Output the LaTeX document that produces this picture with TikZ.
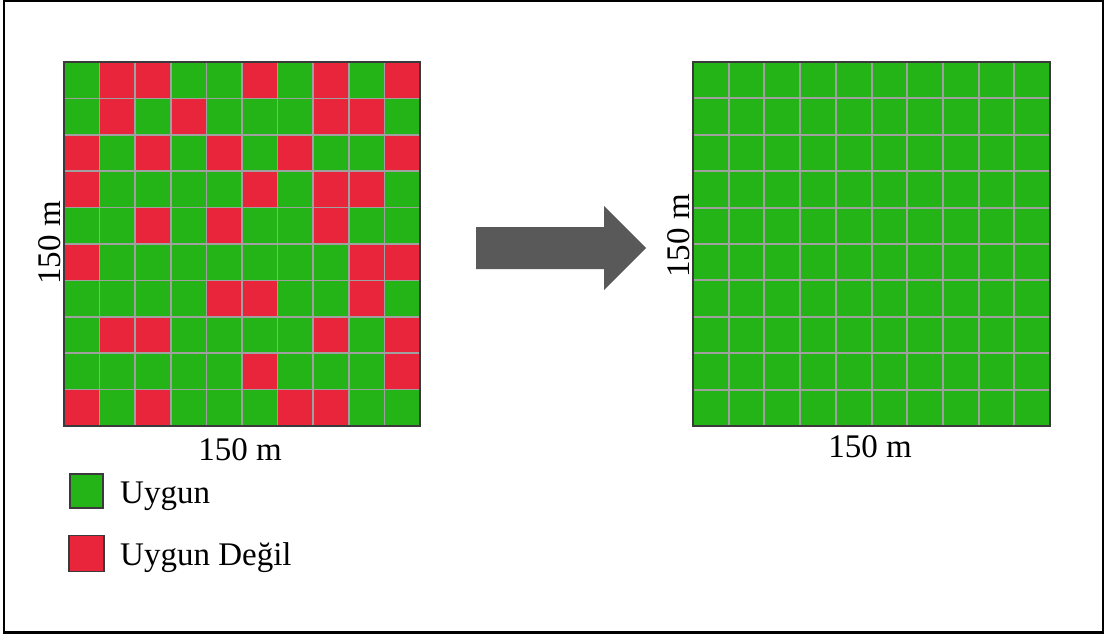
\documentclass[tikz,border=0pt]{standalone}
\usepackage{fontspec}
\setmainfont{Liberation Serif}
\definecolor{okgreen}{HTML}{24B418}
\definecolor{nored}{HTML}{E8253A}
\definecolor{gridgray}{HTML}{A0A0A0}
\definecolor{edgegray}{HTML}{3A3A3A}
\definecolor{arrowgray}{HTML}{595959}
\begin{document}
\begin{tikzpicture}[x=1pt,y=-1pt,
  lbl/.style={font=\fontsize{33}{38}\selectfont, inner sep=0pt},
  legbox/.style={draw=edgegray, line width=1.5pt, minimum width=33pt, minimum height=34pt, inner sep=0pt},
  gridline/.style={draw=gridgray, line width=1.5pt},
  gridedge/.style={draw=edgegray, line width=1.5pt}]
\useasboundingbox (0,0) rectangle (1107,637);
\draw[line width=2pt] (4,1) rectangle (1103,632);
\draw[line width=3.5pt] (3,632.5) -- (1104,632.5);
% left grid
\fill[okgreen] (64,62) rectangle (420,426);
\foreach \c/\r in {1/0,2/0,5/0,7/0,9/0,
                   1/1,3/1,7/1,8/1,
                   0/2,2/2,4/2,6/2,9/2,
                   0/3,5/3,7/3,8/3,
                   2/4,4/4,7/4,
                   0/5,8/5,9/5,
                   4/6,5/6,8/6,
                   1/7,2/7,7/7,9/7,
                   5/8,9/8,
                   0/9,2/9,6/9,7/9}
  \fill[nored] ({64+\c*35.6},{62+\r*36.4}) rectangle ++(35.6,36.4);
\foreach \i in {1,...,9} {
  \draw[gridline] ({64+\i*35.6},62) -- ({64+\i*35.6},426);
  \draw[gridline] (64,{62+\i*36.4}) -- (420,{62+\i*36.4});
}
\draw[gridedge] (64,62) rectangle (420,426);
% right grid
\fill[okgreen] (693,62) rectangle (1050,426);
\foreach \i in {1,...,9} {
  \draw[gridline, line width=2pt] ({693+\i*35.7},62) -- ({693+\i*35.7},426);
  \draw[gridline, line width=2pt] (693,{62+\i*36.4}) -- (1050,{62+\i*36.4});
}
\draw[gridedge] (693,62) rectangle (1050,426);
% labels
\node[lbl, anchor=base] (lb) at (240,460) {150 m};
\node[lbl, anchor=base, rotate=90] (ll) at (60,243) {150 m};
\node[lbl, anchor=base] (rb) at (870,457) {150 m};
\node[lbl, anchor=base, rotate=90] (rl) at (689,236) {150 m};
% arrow
\fill[arrowgray] (476,227) -- (604,227) -- (604,206) -- (646,248) -- (604,290) -- (604,269) -- (476,269) -- cycle;
% legend
\node[legbox, fill=okgreen] (lg) at (86.5,491) {};
\node[lbl, anchor=base west] (lgt) at (120,503) {Uygun};
\node[legbox, fill=nored, minimum width=35pt, minimum height=36pt] (lr) at (86.5,553.5) {};
\node[lbl, anchor=base west] (lrt) at (120,565) {Uygun Değil};
\end{tikzpicture}
\end{document}
